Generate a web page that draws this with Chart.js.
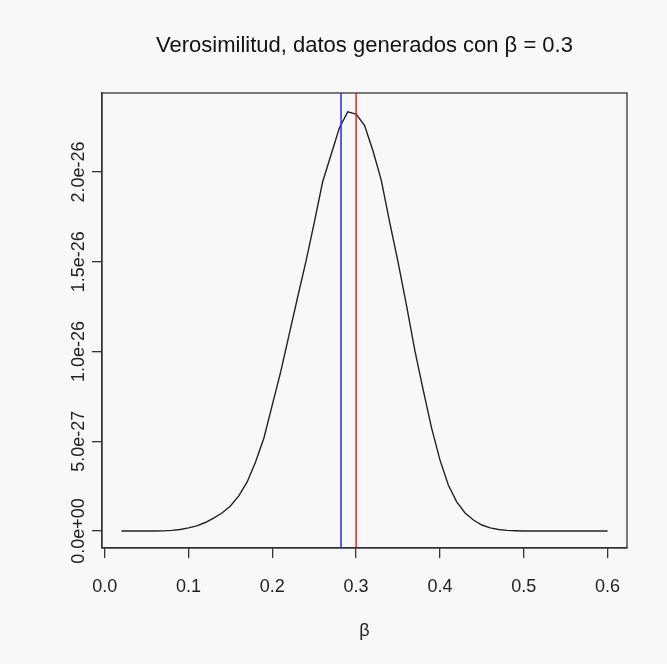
<!DOCTYPE html>
<html>
<head>
<meta charset="utf-8">
<script src="https://cdn.jsdelivr.net/npm/chart.js@4.4.1/dist/chart.umd.min.js"></script>
<style>
  html, body { margin: 0; padding: 0; background: #f8f8f8; }
</style>
</head>
<body>
<canvas id="chart" width="667" height="664"></canvas>
<script>
// beta grid the likelihood was evaluated on
const betas = [0.02, 0.03, 0.04, 0.05, 0.06, 0.07, 0.08, 0.09, 0.10, 0.11,
  0.12, 0.13, 0.14, 0.15, 0.16, 0.17, 0.18, 0.19, 0.20, 0.21,
  0.22, 0.23, 0.24, 0.25, 0.26, 0.27, 0.28, 0.29, 0.30, 0.31,
  0.32, 0.33, 0.34, 0.35, 0.36, 0.37, 0.38, 0.39, 0.40, 0.41,
  0.42, 0.43, 0.44, 0.45, 0.46, 0.47, 0.48, 0.49, 0.50, 0.51,
  0.52, 0.53, 0.54, 0.55, 0.56, 0.57, 0.58, 0.59, 0.60];
// likelihood, in units of 1e-27
const likelihood = [0, 0, 0, 0, 0, 0.005, 0.03, 0.08, 0.17, 0.28,
  0.47, 0.72, 1.0, 1.39, 1.95, 2.73, 3.84, 5.18, 7.02, 8.86,
  10.92, 12.98, 14.99, 17.16, 19.44, 20.95, 22.45, 23.35, 23.23, 22.6,
  21.2, 19.55, 17.21, 14.99, 12.59, 10.08, 7.86, 5.74, 3.96, 2.56,
  1.62, 1.0, 0.61, 0.33, 0.17, 0.08, 0.03, 0.01, 0, 0,
  0, 0, 0, 0, 0, 0, 0, 0, 0];
const trueBeta = 0.3;
const estBeta = 0.282;

const xTicks = [0, 0.1, 0.2, 0.3, 0.4, 0.5, 0.6];
const yTicks = [0, 5e-27, 1e-26, 1.5e-26, 2e-26];
const yLabels = ['0.0e+00', '5.0e-27', '1.0e-26', '1.5e-26', '2.0e-26'];
const xMin = -0.0032, xMax = 0.6232;
const yMin = -0.95e-27, yMax = 24.4e-27;

const titleText = 'Verosimilitud, datos generados con β = 0.3';
const font = '"Liberation Sans", Arial, sans-serif';

const curve = betas.map((b, i) => ({ x: b, y: likelihood[i] * 1e-27 }));

const decor = {
  id: 'decor',
  beforeDraw(chart) {
    const ctx = chart.ctx;
    ctx.save();
    ctx.fillStyle = '#f8f8f8';
    ctx.fillRect(0, 0, chart.width, chart.height);
    ctx.restore();
  },
  afterDraw(chart) {
    const { ctx, chartArea: a, scales: { y } } = chart;
    ctx.save();
    ctx.strokeStyle = '#333';
    ctx.lineWidth = 1.3;
    ctx.strokeRect(a.left, a.top, a.right - a.left, a.bottom - a.top);
    ctx.fillStyle = '#222';
    ctx.font = '18px ' + font;
    ctx.textAlign = 'center';
    ctx.textBaseline = 'middle';
    yTicks.forEach((v, i) => {
      ctx.save();
      ctx.translate(79, y.getPixelForValue(v));
      ctx.rotate(-Math.PI / 2);
      ctx.fillText(yLabels[i], 0, 0);
      ctx.restore();
    });
    ctx.fillText('β', (a.left + a.right) / 2, 631);
    ctx.font = '22px ' + font;
    ctx.fillStyle = '#111';
    ctx.fillText(titleText, (a.left + a.right) / 2, 46);
    ctx.restore();
  }
};

new Chart(document.getElementById('chart'), {
  type: 'line',
  data: {
    datasets: [
      {
        data: curve,
        borderColor: '#222',
        borderWidth: 1.4,
        pointRadius: 0,
        tension: 0,
        order: 2
      },
      {
        data: [{ x: estBeta, y: yMin }, { x: estBeta, y: yMax }],
        borderColor: '#3333ff',
        borderWidth: 1.6,
        pointRadius: 0,
        order: 1
      },
      {
        data: [{ x: trueBeta, y: yMin }, { x: trueBeta, y: yMax }],
        borderColor: '#ee1111',
        borderWidth: 1.4,
        pointRadius: 0,
        order: 0
      }
    ]
  },
  options: {
    responsive: false,
    animation: false,
    devicePixelRatio: 1,
    layout: { padding: { top: 93, right: 40, left: 0, bottom: 0 } },
    plugins: { legend: { display: false }, tooltip: { enabled: false } },
    scales: {
      x: {
        type: 'linear',
        min: xMin,
        max: xMax,
        afterBuildTicks: s => { s.ticks = xTicks.map(v => ({ value: v })); },
        afterFit: s => { s.height = 116; },
        grid: { drawOnChartArea: false, drawTicks: true, tickLength: 10, color: '#333', lineWidth: 1.3 },
        border: { display: true, color: '#333', width: 1.3 },
        ticks: {
          padding: 18,
          color: '#222',
          font: { size: 18, family: font },
          maxRotation: 0,
          callback: v => v.toFixed(1)
        }
      },
      y: {
        type: 'linear',
        min: yMin,
        max: yMax,
        afterBuildTicks: s => { s.ticks = yTicks.map(v => ({ value: v })); },
        afterFit: s => { s.width = 102; },
        grid: { drawOnChartArea: false, drawTicks: true, tickLength: 10, color: '#333', lineWidth: 1.3 },
        border: { display: true, color: '#333', width: 1.3 },
        ticks: { display: false }
      }
    }
  },
  plugins: [decor]
});
</script>
</body>
</html>
